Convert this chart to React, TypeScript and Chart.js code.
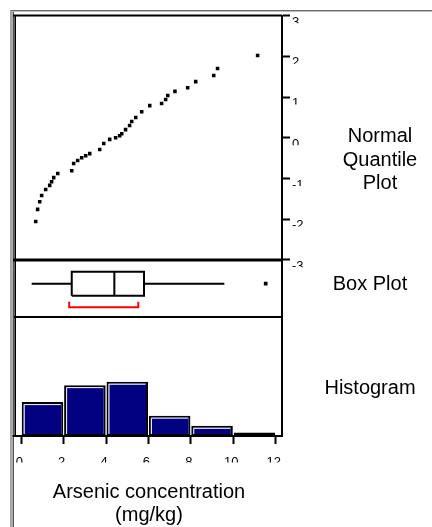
import React, { useEffect, useRef } from "react";
import { Chart, registerables } from "chart.js";

Chart.register(...registerables);

// ---------------- data ----------------
// Normal quantile plot: arsenic concentration (mg/kg) vs normal quantile
const qqValues = [
  0.68, 0.77, 0.87, 0.96, 1.15, 1.34, 1.43, 1.53, 1.72, 2.38, 2.47, 2.66,
  2.85, 3.04, 3.23, 3.7, 3.89, 4.17, 4.45, 4.64, 4.74, 4.92, 5.11, 5.21,
  5.4, 5.68, 6.06, 6.62, 6.81, 6.91, 7.25, 7.85, 8.23, 9.08, 9.26, 11.15,
];
const qqQuantiles = [
  -2.06, -1.76, -1.57, -1.42, -1.27, -1.17, -1.08, -0.98, -0.88, -0.81, -0.63,
  -0.56, -0.49, -0.44, -0.39, -0.29, -0.14, -0.04, 0.0, 0.05, 0.1, 0.2, 0.3,
  0.4, 0.5, 0.64, 0.79, 0.84, 0.94, 1.04, 1.14, 1.23, 1.38, 1.53, 1.7, 2.02,
];

// Histogram bins (width 2 mg/kg) and counts
const binStarts = [0, 2, 4, 6, 8, 10];
const binCounts = [10, 15, 16, 6, 3, 1];
const binWidth = 2;

// Box plot statistics
const whiskerLow = 0.49;
const quartile1 = 2.38;
const medianValue = 4.39;
const quartile3 = 5.79;
const whiskerHigh = 9.58;
const outlierValues = [11.53];
const shortestHalf = [2.26, 5.52];

// Ticks and texts
const xTickValues = [0, 2, 4, 6, 8, 10, 12];
const xTickLabels = ["0", "2", "4", "6", "8", "10", "12"];
const quantileTickValues = [3, 2, 1, 0, -1, -2, -3];
const quantileTickLabels = ["3", "2", "1", "0", "-1", "-2", "-3"];
const axisTitleLines = ["Arsenic concentration", "(mg/kg)"];
const sideTitles = [["Normal", "Quantile", "Plot"], ["Box Plot"], ["Histogram"]];

// ---------------- layout / style constants ----------------
const W = 432;
const H = 527;
const AREA_LEFT = 16;
const AREA_TOP = 15.5;
const AREA_RIGHT = 282;
const AREA_BOTTOM = 436;
const X_MIN = -0.25;
const X_MAX = 12.3;
const Q_MIN = -7.33;
const Q_MAX = 3.005;
const HIST_MAX = 124;
const BOX_CENTER_PX = 283.7;
const BOX_HALF = 12;
const BRACKET_LINE = -23.6;
const BRACKET_TIP = -18;
const SEP_QQ_BOX = 260;
const SEP_BOX_HIST = 317;
const NAVY = "#000080";
const FONT = "'Liberation Sans', Arial, Helvetica, sans-serif";
const sideTitleCenters = [380, 370, 370];
const sideTitleBaselines = [141.7, 290, 394.3];
const SIDE_LINE_STEP = 23.8;

const patchLabels = (scale: any, clipper: (ctx: CanvasRenderingContext2D, s: any) => void) => {
  if (!scale || scale.__clipped) return;
  const orig = scale.drawLabels.bind(scale);
  scale.drawLabels = (area: any) => {
    const ctx: CanvasRenderingContext2D = scale.ctx;
    ctx.save();
    ctx.beginPath();
    clipper(ctx, scale);
    ctx.clip();
    orig(area);
    ctx.restore();
  };
  scale.__clipped = true;
};

const panelPlugin = {
  id: "panelPlugin",
  beforeDraw(chart: any) {
    patchLabels(chart.scales.x, (ctx) => {
      ctx.rect(0, 0, W, 462.5);
    });
    patchLabels(chart.scales.y, (ctx, s) => {
      quantileTickValues.forEach((v) => {
        const py = s.getPixelForValue(v);
        ctx.rect(s.left, py - 2, W - s.left, 9.5);
      });
    });
  },
  afterDatasetsDraw(chart: any) {
    const ctx: CanvasRenderingContext2D = chart.ctx;
    const meta = chart.getDatasetMeta(0);
    ctx.save();
    ctx.strokeStyle = "#ffffff";
    ctx.lineWidth = 1;
    meta.data.forEach((bar: any) => {
      const left = bar.x - bar.width / 2 + 2.5;
      const right = bar.x + bar.width / 2 - 2.5;
      const top = bar.y + 2.5;
      const bottom = bar.base - 2;
      if (bottom - top < 1) return;
      ctx.beginPath();
      ctx.moveTo(left, bottom);
      ctx.lineTo(left, top);
      ctx.lineTo(right, top);
      ctx.stroke();
    });
    ctx.restore();
  },
  afterDraw(chart: any) {
    const ctx: CanvasRenderingContext2D = chart.ctx;
    const area = chart.chartArea;
    ctx.save();
    // outer frame (gray + black double line)
    ctx.strokeStyle = "#6b6b6b";
    ctx.lineWidth = 1.2;
    ctx.beginPath();
    ctx.moveTo(11, H);
    ctx.lineTo(11, 10.5);
    ctx.lineTo(W, 10.5);
    ctx.stroke();
    ctx.strokeStyle = "#000";
    ctx.lineWidth = 1;
    ctx.beginPath();
    ctx.moveTo(13.2, H);
    ctx.lineTo(13.2, 11.5);
    ctx.stroke();
    ctx.strokeStyle = "#bdbdbd";
    ctx.beginPath();
    ctx.moveTo(12, 11.5);
    ctx.lineTo(W, 11.5);
    ctx.stroke();
    // panel frame
    ctx.strokeStyle = "#000";
    ctx.lineWidth = 2;
    ctx.beginPath();
    ctx.moveTo(13, area.top);
    ctx.lineTo(area.right, area.top);
    ctx.stroke();
    ctx.lineWidth = 1.6;
    ctx.beginPath();
    ctx.moveTo(15.2, area.top);
    ctx.lineTo(15.2, area.bottom);
    ctx.stroke();
    ctx.lineWidth = 3;
    ctx.beginPath();
    ctx.moveTo(13, SEP_QQ_BOX);
    ctx.lineTo(area.right, SEP_QQ_BOX);
    ctx.stroke();
    ctx.lineWidth = 2;
    ctx.beginPath();
    ctx.moveTo(14, SEP_BOX_HIST);
    ctx.lineTo(area.right, SEP_BOX_HIST);
    ctx.stroke();
    ctx.beginPath();
    ctx.moveTo(12.5, area.bottom);
    ctx.lineTo(area.right, area.bottom);
    ctx.stroke();
    // side titles
    ctx.fillStyle = "#000";
    ctx.font = `20px ${FONT}`;
    ctx.textAlign = "center";
    ctx.textBaseline = "alphabetic";
    sideTitles.forEach((lines, i) => {
      lines.forEach((line, j) => {
        ctx.fillText(line, sideTitleCenters[i], sideTitleBaselines[i] + j * SIDE_LINE_STEP);
      });
    });
    ctx.restore();
  },
};

export default function App() {
  const canvasRef = useRef<HTMLCanvasElement | null>(null);

  useEffect(() => {
    if (!canvasRef.current) return;
    Chart.defaults.font.family = FONT;
    Chart.defaults.color = "#000";

    const lineDs = (data: { x: number; y: number }[], color = "#000", width = 2) => ({
      type: "line" as const,
      data,
      xAxisID: "x",
      yAxisID: "yBox",
      borderColor: color,
      borderWidth: width,
      pointRadius: 0,
      fill: false,
      tension: 0,
      borderCapStyle: "butt" as const,
      borderJoinStyle: "miter" as const,
    });

    const chart = new Chart(canvasRef.current, {
      type: "scatter",
      data: {
        datasets: [
          {
            type: "bar",
            data: binStarts.map((s, i) => ({ x: s + binWidth / 2, y: binCounts[i] })),
            xAxisID: "x",
            yAxisID: "yHist",
            backgroundColor: NAVY,
            borderColor: "#000",
            borderWidth: 2,
            borderSkipped: false,
            barPercentage: 0.98,
            categoryPercentage: 1,
          } as any,
          {
            type: "scatter",
            data: qqValues.map((v, i) => ({ x: v, y: qqQuantiles[i] })),
            xAxisID: "x",
            yAxisID: "y",
            pointStyle: "rect",
            pointRadius: 2.5,
            backgroundColor: "#000",
            borderWidth: 0,
          } as any,
          // box plot
          lineDs([
            { x: quartile1, y: -BOX_HALF },
            { x: quartile3, y: -BOX_HALF },
            { x: quartile3, y: BOX_HALF },
            { x: quartile1, y: BOX_HALF },
            { x: quartile1, y: -BOX_HALF },
          ]),
          lineDs([
            { x: medianValue, y: -BOX_HALF },
            { x: medianValue, y: BOX_HALF },
          ]),
          lineDs([
            { x: whiskerLow, y: 0 },
            { x: quartile1, y: 0 },
          ]),
          lineDs([
            { x: quartile3, y: 0 },
            { x: whiskerHigh, y: 0 },
          ]),
          lineDs(
            [
              { x: shortestHalf[0], y: BRACKET_TIP },
              { x: shortestHalf[0], y: BRACKET_LINE },
              { x: shortestHalf[1], y: BRACKET_LINE },
              { x: shortestHalf[1], y: BRACKET_TIP },
            ],
            "#ff0000",
            2
          ),
          {
            type: "scatter",
            data: outlierValues.map((v) => ({ x: v, y: 0 })),
            xAxisID: "x",
            yAxisID: "yBox",
            pointStyle: "rect",
            pointRadius: 2.6,
            backgroundColor: "#000",
            borderWidth: 0,
          } as any,
        ],
      },
      options: {
        responsive: false,
        animation: false,
        events: [],
        layout: { padding: { left: AREA_LEFT, top: AREA_TOP, right: 0, bottom: 0 } },
        plugins: {
          legend: { display: false },
          tooltip: { enabled: false },
          title: { display: false },
        },
        scales: {
          x: {
            type: "linear",
            position: "bottom",
            min: X_MIN,
            max: X_MAX,
            offset: false,
            afterBuildTicks: (scale: any) => {
              scale.ticks = xTickValues.map((v) => ({ value: v }));
            },
            afterFit: (scale: any) => {
              scale.height = H - AREA_BOTTOM;
            },
            ticks: {
              autoSkip: false,
              maxRotation: 0,
              minRotation: 0,
              padding: 11,
              labelOffset: -2,
              color: "#000",
              font: { size: 13, family: FONT },
              callback: (v: any) => xTickLabels[xTickValues.indexOf(Number(v))] ?? "",
            },
            grid: {
              display: true,
              drawOnChartArea: false,
              drawTicks: true,
              tickLength: 8,
              tickWidth: 2,
              tickColor: "#000",
              offset: false,
            },
            border: { display: true, color: "#000", width: 2 },
            title: {
              display: true,
              text: axisTitleLines,
              color: "#000",
              font: { size: 20, family: FONT, lineHeight: 1.15 },
              padding: { top: 0, bottom: 0 },
            },
          },
          y: {
            type: "linear",
            position: "right",
            min: Q_MIN,
            max: Q_MAX,
            afterBuildTicks: (scale: any) => {
              scale.ticks = quantileTickValues.map((v) => ({ value: v }));
            },
            afterFit: (scale: any) => {
              scale.width = W - AREA_RIGHT;
            },
            ticks: {
              autoSkip: false,
              padding: 2,
              labelOffset: 6.5,
              color: "#000",
              font: { size: 13, family: FONT },
              callback: (v: any) =>
                quantileTickLabels[quantileTickValues.indexOf(Number(v))] ?? "",
            },
            grid: {
              display: true,
              drawOnChartArea: false,
              drawTicks: true,
              tickLength: 8,
              tickWidth: 2,
              tickColor: "#000",
            },
            border: { display: true, color: "#000", width: 2 },
          },
          yHist: {
            type: "linear",
            display: false,
            min: 0,
            max: HIST_MAX,
          },
          yBox: {
            type: "linear",
            display: false,
            min: -(AREA_BOTTOM - BOX_CENTER_PX),
            max: BOX_CENTER_PX - AREA_TOP,
          },
        },
      } as any,
      plugins: [panelPlugin],
    });

    return () => chart.destroy();
  }, []);

  return (
    <div style={{ position: "absolute", left: 0, top: 0, width: W, height: H, background: "#fff" }}>
      <canvas ref={canvasRef} width={W} height={H} style={{ display: "block" }} />
    </div>
  );
}
